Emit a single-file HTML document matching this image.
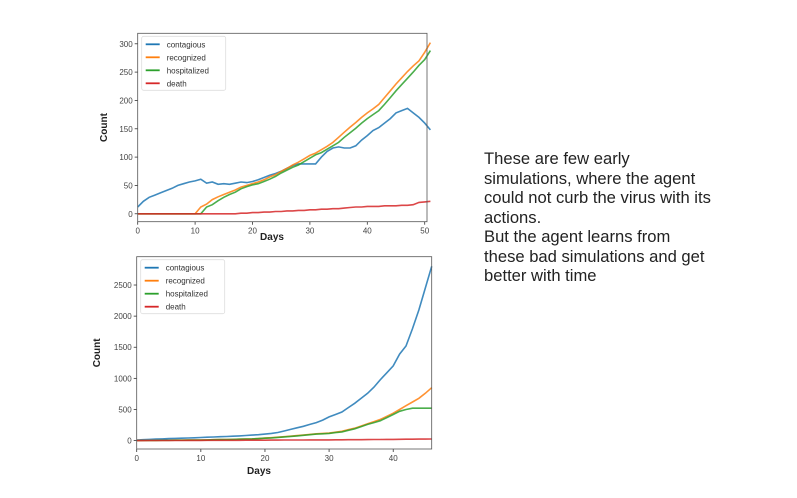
<!DOCTYPE html>
<html><head><meta charset="utf-8">
<style>
body{margin:0;width:797px;height:498px;background:#fff;overflow:hidden;position:relative;font-family:"Liberation Sans",sans-serif}
#desc{position:absolute;left:484px;top:149px;font-size:16.6px;line-height:19.5px;color:#222;white-space:nowrap}
svg{position:absolute;left:0;top:0}
</style></head><body>
<svg id="svg" width="797" height="498"></svg>
<div id="desc">These are few early<br>simulations, where the agent<br>could not curb the virus with its<br>actions.<br>But the agent learns from<br>these bad simulations and get<br>better with time</div>
<script>
const seriesNames=["contagious","recognized","hospitalized","death"];
const colors=["#1f77b4","#ff7f0e","#2ca02c","#d62728"];
const topContagious=[12,22,29,33,37,41,45,50,53,56,58,61,54,56,52,53,52,54,56,55,57,60,64,68,71,75,80,85,88,88,88,88,100,110,116,118,116,116,120,130,138,147,152,160,168,178,182,186,178,170,160,148];
const topRecognized=[0,0,0,0,0,0,0,0,0,0,0,12,17,25,30,34,38,42,47,50,53,56,60,65,69,75,80,86,91,97,103,107,113,119,126,135,144,153,161,170,178,185,193,205,217,229,240,251,261,270,285,302];
const topHospitalized=[0,0,0,0,0,0,0,0,0,0,0,0,12,16,23,29,34,38,44,48,51,53,57,61,66,72,77,82,86,92,98,104,108,114,120,126,135,143,151,160,168,175,182,193,205,217,228,239,250,262,272,288];
const topDeath=[0,0,0,0,0,0,0,0,0,0,0,0,0,0,0,0,0,0,1,1,2,2,3,3,4,4,5,5,6,6,7,7,8,8,9,9,10,11,12,12,13,13,13,14,14,14,15,15,16,20,21,22];
const botContagious=[10,15,20,24,28,32,35,38,42,45,50,55,58,62,66,70,75,82,88,95,105,115,130,155,180,205,230,260,290,330,380,420,460,530,600,680,760,860,980,1090,1200,1390,1520,1800,2100,2450,2800];
const botRecognized=[0,1,2,3,4,5,6,7,8,9,10,12,14,16,18,20,22,25,28,32,40,47,55,62,70,80,90,100,110,115,120,135,150,175,200,235,270,305,340,390,440,500,560,620,680,760,850];
const botHospitalized=[0,1,2,3,4,5,6,7,8,9,10,12,14,16,18,20,22,25,28,32,38,44,52,60,68,76,85,94,104,110,116,128,140,165,190,225,260,290,320,370,420,470,500,520,520,520,520];
const botDeath=[0,0,1,1,1,2,2,2,3,3,3,4,4,4,5,5,5,6,6,7,7,8,8,9,9,10,10,11,11,12,12,13,13,14,14,15,16,17,18,19,20,21,22,23,24,24,25];
const topXTicks=[0,10,20,30,40,50];
const topYTicks=[0,50,100,150,200,250,300];
const botXTicks=[0,10,20,30,40];
const botYTicks=[0,500,1000,1500,2000,2500];

const NS="http://www.w3.org/2000/svg";
const svg=document.getElementById('svg');
function mk(t,a,p){const e=document.createElementNS(NS,t);for(const k in a)e.setAttribute(k,a[k]);(p||svg).appendChild(e);return e;}

function chart(cfg,prefix){
  const g=mk('g',{});
  
  
  const X=v=>cfg.L+(v-cfg.x0)/(cfg.x1-cfg.x0)*(cfg.R-cfg.L);
  const Y=v=>cfg.B-(v-cfg.y0)/(cfg.y1-cfg.y0)*(cfg.B-cfg.T);
  cfg.xt.forEach(t=>{
    mk('line',{x1:X(t),x2:X(t),y1:cfg.B,y2:cfg.B+3,stroke:'#333','stroke-width':0.8},g);
    const tx=mk('text',{x:X(t),y:cfg.B+12,'font-size':8,'text-anchor':'middle',fill:'#444'},g);tx.textContent=t;
    
    
  });
  cfg.yt.forEach(t=>{
    mk('line',{x1:cfg.L-3,x2:cfg.L,y1:Y(t),y2:Y(t),stroke:'#333','stroke-width':0.8},g);
    const tx=mk('text',{x:cfg.L-5,y:Y(t)+3,'font-size':8,'text-anchor':'end',fill:'#444'},g);tx.textContent=t;
    
    
  });
  cfg.series.forEach((s,i)=>{
    const d=s.map((v,j)=>(j?'L':'M')+X(j).toFixed(1)+','+Y(v).toFixed(1)).join('');
    const p=mk('path',{d:d,fill:'none',stroke:colors[i],'stroke-width':1.6,opacity:0.85},g);
    
    
  });
  mk('rect',{x:cfg.L,y:cfg.T,width:cfg.R-cfg.L,height:cfg.B-cfg.T,fill:'none',stroke:'#555','stroke-width':0.8},g);
  const lg=mk('g',{},g);
  
  
  mk('rect',{x:cfg.L+4,y:cfg.T+3,width:84,height:54,fill:'#fff',stroke:'#ddd','stroke-width':0.8,rx:2},lg);
  seriesNames.forEach((n,i)=>{
    const yy=cfg.T+11+i*13;
    mk('line',{x1:cfg.L+8,x2:cfg.L+22,y1:yy,y2:yy,stroke:colors[i],'stroke-width':1.8},lg);
    const tx=mk('text',{x:cfg.L+29,y:yy+3,'font-size':8,fill:'#333'},lg);tx.textContent=n;
    
    
  });
  const xl=mk('text',{x:cfg.xlX,y:cfg.xlY,'font-size':10,'font-weight':'bold','text-anchor':'middle',fill:'#222'},g);xl.textContent='Days';
  
  
  const yl=mk('text',{x:0,y:0,'font-size':10,'font-weight':'bold','text-anchor':'middle',fill:'#222',transform:`translate(${cfg.ylX},${(cfg.T+cfg.B)/2}) rotate(-90)`},g);yl.textContent='Count';
  
  
}
chart({L:137.7,R:427,T:33.3,B:221.7,x0:0,x1:50.4,y0:-14,y1:318.5,xt:topXTicks,yt:topYTicks,
  series:[topContagious,topRecognized,topHospitalized,topDeath],xlX:272,xlY:240,ylX:107},'top');
chart({L:136.7,R:431.7,T:256.7,B:449,x0:0,x1:46,y0:-135,y1:2955,xt:botXTicks,yt:botYTicks,
  series:[botContagious,botRecognized,botHospitalized,botDeath],xlX:259,xlY:474,ylX:100},'bottom');
</script>
</body></html>
